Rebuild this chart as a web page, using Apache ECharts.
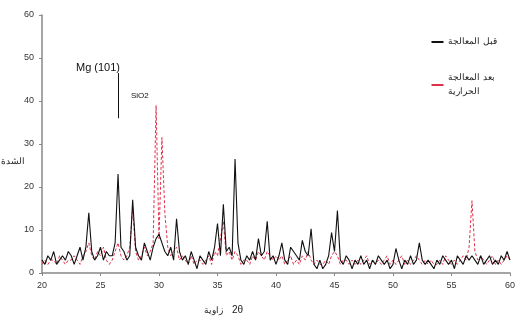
<!DOCTYPE html>
<html>
<head>
<meta charset="utf-8">
<script src="https://cdn.jsdelivr.net/npm/echarts@6/dist/echarts.min.js"></script>
<style>
  html, body { margin: 0; padding: 0; background: #fff; }
  #chart { width: 516px; height: 325px; }
</style>
</head>
<body>
<div id="chart"></div>
<script>
// 2-theta grid: 20 .. 60 deg, step 0.25
const angleStart = 20;
const angleStep = 0.25;

// black solid pattern (4 points per degree)
const blackValues = [
  3, 2, 4, 3,   5, 2, 3, 4,   3, 5, 4, 2,   4, 6, 3, 6,
  14, 5, 3, 4,  6, 3, 5, 4,   4, 7, 23, 6,  5, 3, 4, 17,
  6, 4, 3, 7,   5, 3, 6, 8,   9, 7, 5, 4,   6, 3, 12.6, 5,
  3, 4, 2, 5,   3, 1, 4, 3,   2, 5, 3, 6,   11.5, 4, 16, 5,
  6, 4, 26.5, 7, 3, 2, 4, 3,  5, 3, 8, 4,   5, 12, 3, 4,
  2, 4, 7, 3,   2, 6, 5, 4,   3, 7.6, 5, 4, 10.3, 2, 1, 3,
  1, 2, 4, 9.4, 5, 14.5, 3, 2, 4, 3, 1, 3,  2, 4, 2, 3,
  1, 3, 2, 4,   3, 2, 3, 1,   2, 5.7, 3, 1, 3, 2, 4, 2,
  3, 7, 3, 2,   3, 2, 1, 3,   2, 4, 3, 2,   3, 1, 4, 3,
  2, 4, 3, 4,   3, 2, 4, 2,   3, 4, 2, 3,   2, 4, 3, 5,
  3
];

// red dashed pattern
const redValues = [
  2, 3, 2, 3,   3, 2, 4, 3,   2, 3, 3, 4,   3, 2, 4, 5,
  7, 4, 3, 5,   4, 6, 3, 2,   3, 5, 7, 4,   3, 4, 6, 15,
  5, 3, 4, 6,   4, 5, 7, 39,  8, 31.5, 14, 6, 4, 5, 6, 3,
  4, 3, 2, 4,   2, 3, 3, 2,   3, 4, 2, 5,   4, 8, 12, 4,
  5, 3, 5, 4,   2, 3, 3, 2,   4, 3, 5, 4,   3, 5, 4, 3,
  4, 3, 4, 2,   3, 4, 2, 3,   2, 4, 3, 5,   3, 2, 3, 2,
  2, 3, 2, 4,   5, 4, 2, 3,   3, 2, 3, 2,   3, 2, 3, 4,
  2, 3, 2, 3,   2, 3, 4, 2,   3, 2, 3, 4,   2, 3, 2, 3,
  4, 3, 2, 3,   2, 3, 2, 2,   3, 2, 4, 3,   2, 3, 2, 3,
  4, 3, 6, 16.8, 5, 3, 4, 3,  2, 3, 4, 2,   3, 2, 3, 4,
  3
];

const seriesNames = ['قبل المعالجة', 'بعد المعالجة\nالحرارية'];

const toPairs = vals => vals.map((v, i) => [angleStart + i * angleStep, v]);

const chart = echarts.init(document.getElementById('chart'), null, { renderer: 'canvas' });

const font = '"Liberation Sans", Arial, sans-serif';

chart.setOption({
  backgroundColor: '#fff',
  animation: false,
  textStyle: { fontFamily: font },
  grid: { left: 42, right: 6, top: 15, bottom: 52, containLabel: false, outerBoundsMode: 'none' },
  legend: {
    orient: 'vertical',
    right: 14,
    top: 30,
    itemGap: 22,
    itemWidth: 12,
    itemHeight: 2,
    textStyle: { fontSize: 9, color: '#222', lineHeight: 14 },
    data: [
      { name: seriesNames[0], icon: 'rect' },
      { name: seriesNames[1], icon: 'rect' }
    ]
  },
  xAxis: {
    type: 'value',
    min: 20,
    max: 60,
    interval: 5,
    axisLine: { lineStyle: { color: '#888', width: 1.5 } },
    axisTick: { show: true, length: 3, lineStyle: { color: '#888' } },
    axisLabel: { fontSize: 9, color: '#333', margin: 8 },
    splitLine: { show: false }
  },
  yAxis: {
    type: 'value',
    min: 0,
    max: 60,
    interval: 10,
    axisLine: { show: true, lineStyle: { color: '#888', width: 1.5 } },
    axisTick: { show: true, length: 3, lineStyle: { color: '#888' } },
    axisLabel: { fontSize: 9, color: '#333', margin: 8 },
    splitLine: { show: false }
  },
  series: [
    {
      name: seriesNames[1],
      type: 'line',
      data: toPairs(redValues),
      symbol: 'none',
      lineStyle: { color: '#e0304a', width: 1, type: [3, 2] },
      itemStyle: { color: '#e0304a' },
      z: 2
    },
    {
      name: seriesNames[0],
      type: 'line',
      data: toPairs(blackValues),
      symbol: 'none',
      lineStyle: { color: '#111', width: 1.1 },
      itemStyle: { color: '#111' },
      z: 3,
      markLine: {
        silent: true,
        symbol: 'none',
        label: { show: false },
        lineStyle: { color: '#111', width: 1, type: 'solid' },
        data: [[{ coord: [26.5, 36] }, { coord: [26.5, 46.5] }]]
      }
    }
  ],
  graphic: [
    {
      type: 'text', left: 1, top: 157,
      style: { text: 'الشدة', fontSize: 9, fill: '#222', fontFamily: font }
    },
    {
      type: 'text', left: 76, top: 62,
      style: { text: 'Mg (101)', fontSize: 11, fill: '#111', fontFamily: font }
    },
    {
      type: 'text', left: 131, top: 92,
      style: { text: 'SiO2', fontSize: 8, fill: '#111', fontFamily: font }
    },
    {
      type: 'text', left: 204, top: 306,
      style: { text: 'زاوية', fontSize: 9, fill: '#222', fontFamily: font }
    },
    {
      type: 'text', left: 232, top: 305,
      style: { text: '2θ', fontSize: 10, fill: '#222', fontFamily: font }
    }
  ]
});
</script>
</body>
</html>
